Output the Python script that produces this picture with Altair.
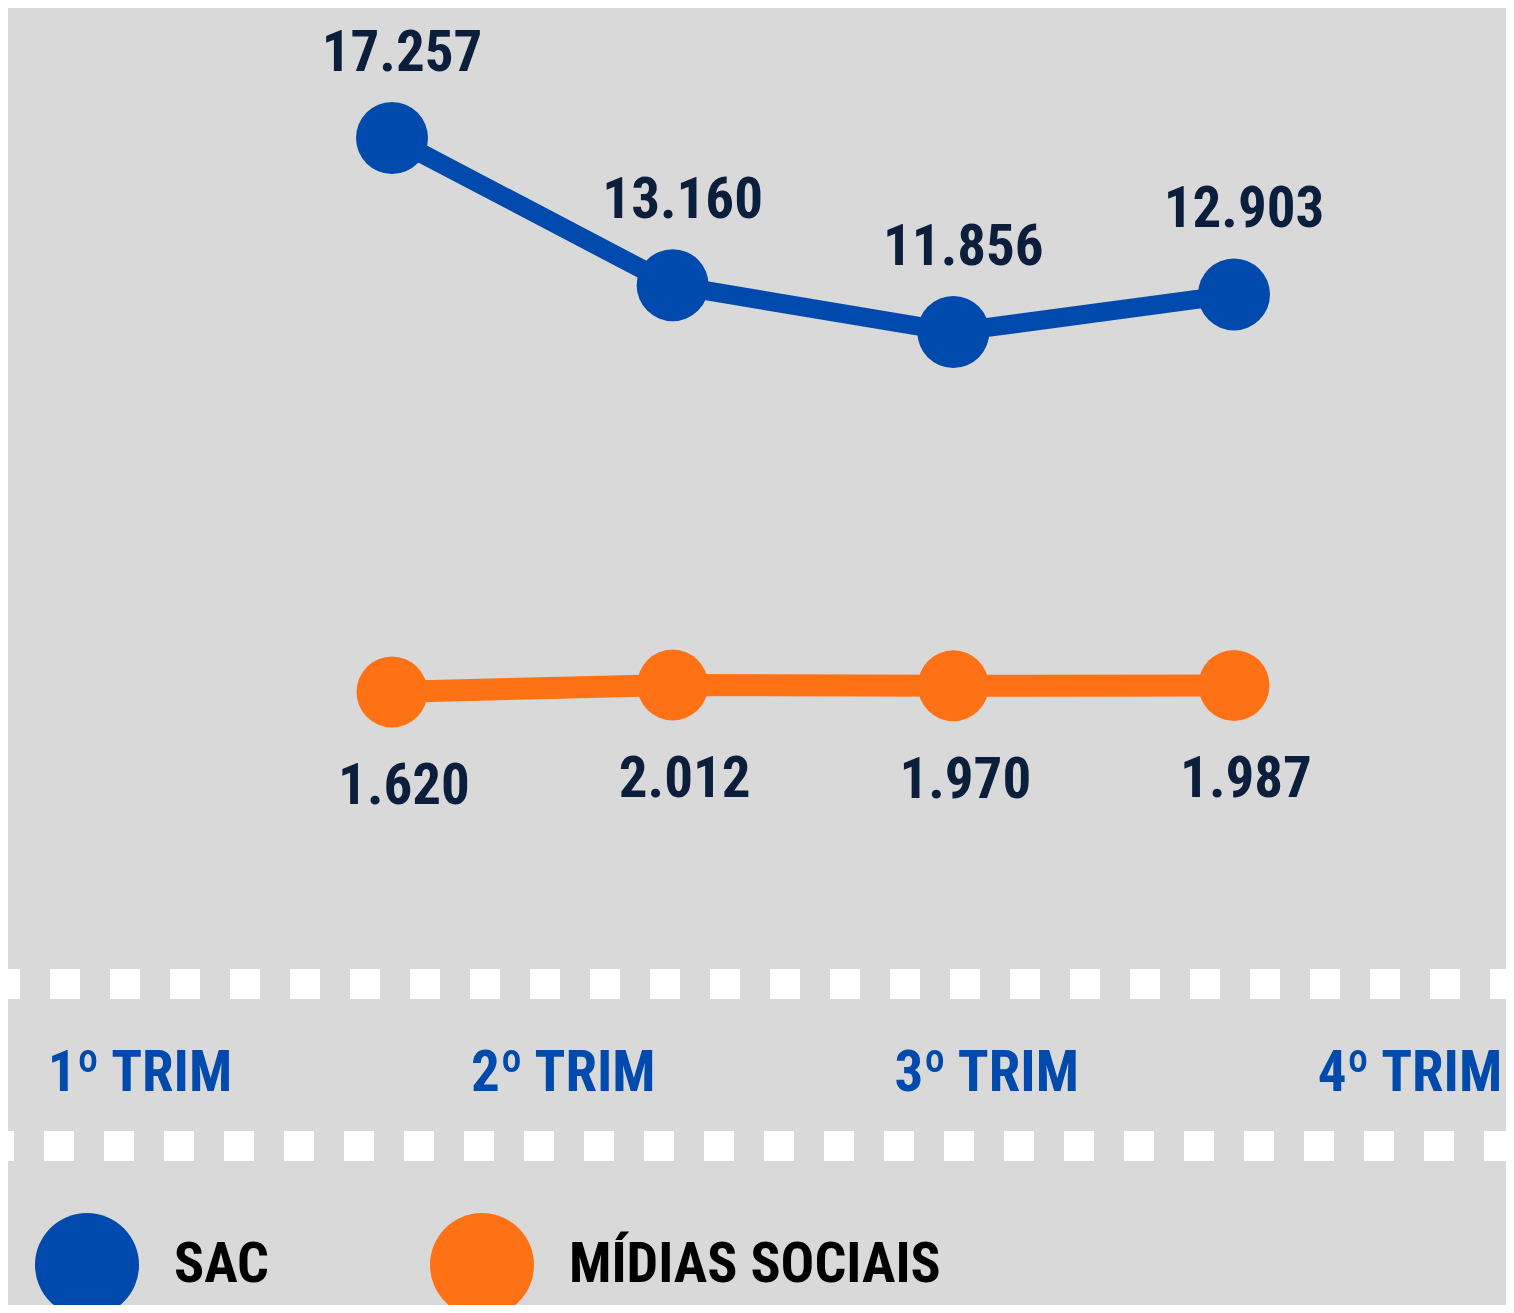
import altair as alt
import pandas as pd

# ---- data ----
trimestres = ["1º TRIM", "2º TRIM", "3º TRIM", "4º TRIM"]
sac = [17257, 13160, 11856, 12903]
midias = [1620, 2012, 1970, 1987]
series = ["SAC", "MÍDIAS SOCIAIS"]

BLUE = "#004aad"
ORANGE = "#ff7115"
NAVY = "#0b1e3c"
BG = "#d9d9d9"
FONT = "Liberation Sans Narrow, Roboto Condensed, DejaVu Sans Condensed, sans-serif"

W, H = 1498, 1297


def fmt(v):
    return f"{v:,}".replace(",", ".")


df_sac = pd.DataFrame({"trimestre": trimestres, "valor": sac, "serie": series[0],
                       "rotulo": [fmt(v) for v in sac]})
df_mid = pd.DataFrame({"trimestre": trimestres, "valor": midias, "serie": series[1],
                       "rotulo": [fmt(v) for v in midias]})
df_trim = pd.DataFrame({"trimestre": trimestres})

x_pts = alt.X("trimestre:N", sort=trimestres, axis=None,
              scale=alt.Scale(type="point", range=[384, 1226], padding=0))
y_sac = alt.Y("valor:Q", axis=None,
              scale=alt.Scale(domain=[min(sac), max(sac)], range=[324, 130], zero=False, nice=False))
y_mid = alt.Y("valor:Q", axis=None,
              scale=alt.Scale(domain=[min(midias), max(midias)], range=[684, 677], zero=False, nice=False))

color = alt.Color(
    "serie:N",
    scale=alt.Scale(domain=series, range=[BLUE, ORANGE]),
    legend=alt.Legend(
        orient="none", legendX=27, legendY=1205, direction="horizontal", title=None,
        symbolType="circle", symbolSize=10816, symbolStrokeWidth=0, symbolOpacity=1,
        labelFont=FONT, labelFontSize=56, labelFontWeight="bold", labelColor="#000000",
        labelOffset=35, columnPadding=160, padding=0, labelLimit=1000,
    ),
)

base_sac = alt.Chart(df_sac)
base_mid = alt.Chart(df_mid)

sac_line = base_sac.mark_line(strokeWidth=19, color=BLUE).encode(x=x_pts, y=y_sac)
sac_pts = base_sac.mark_circle(size=5184, opacity=1).encode(x=x_pts, y=y_sac, color=color)
sac_txt = base_sac.mark_text(font=FONT, fontSize=57, fontWeight="bold", color=NAVY,
                             baseline="alphabetic", dy=-67, dx=10).encode(x=x_pts, y=y_sac, text="rotulo:N")

mid_line = base_mid.mark_line(strokeWidth=22, color=ORANGE).encode(x=x_pts, y=y_mid)
mid_pts = base_mid.mark_circle(size=5041, opacity=1).encode(x=x_pts, y=y_mid, color=color)
mid_txt = base_mid.mark_text(font=FONT, fontSize=57, fontWeight="bold", color=NAVY,
                             baseline="alphabetic", dy=112, dx=12).encode(x=x_pts, y=y_mid, text="rotulo:N")

xlabels = alt.Chart(df_trim).mark_text(font=FONT, fontSize=57, fontWeight="bold", color=BLUE,
                                       baseline="middle").encode(
    x=alt.X("trimestre:N", sort=trimestres, axis=None,
            scale=alt.Scale(type="point", range=[132, 1402], padding=0)),
    y=alt.value(1066),
    text="trimestre:N",
)

rule_top = alt.Chart(df_trim.head(1)).mark_rule(
    color="white", strokeWidth=30, strokeDash=[30, 30], strokeDashOffset=18
).encode(x=alt.value(0), x2=alt.value(W), y=alt.value(976))
rule_bot = alt.Chart(df_trim.head(1)).mark_rule(
    color="white", strokeWidth=30, strokeDash=[30, 30], strokeDashOffset=24
).encode(x=alt.value(0), x2=alt.value(W), y=alt.value(1138))

chart = alt.layer(
    rule_top, rule_bot, xlabels,
    sac_line, mid_line, sac_pts, mid_pts, sac_txt, mid_txt,
).resolve_scale(x="independent", y="independent").properties(
    width=W, height=H, background=BG, padding=0,
    autosize=alt.AutoSizeParams(type="none"),
).configure_view(stroke=None)

chart.save("out.html", embed_options={"renderer": "svg", "actions": False})
